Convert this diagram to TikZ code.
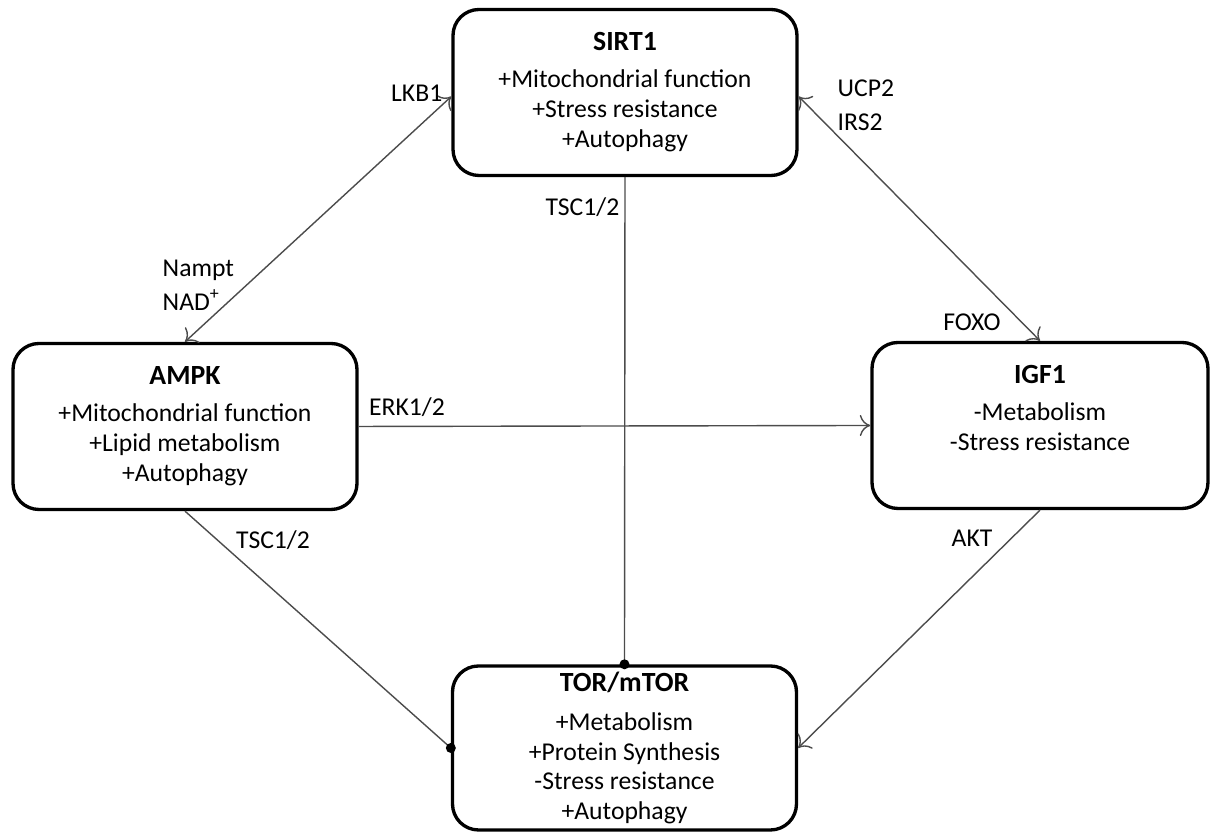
\documentclass[tikz,border=0pt]{standalone}
\usepackage{fontspec}
\setmainfont{Carlito}
\usepackage{tikz}
\usetikzlibrary{arrows.meta}
\usetikzlibrary{calc,shapes}

\tikzset{
  boite/.style={draw,line width=0.95pt,rounded corners=0.26cm,minimum width=3.44cm,minimum height=1.66cm,inner sep=0},
  texte/.style={anchor=north,align=center,inner sep=0,font=\fontsize{7.3}{8.5}\selectfont},
  lien/.style={black!70,line width=0.4pt},
  etiq/.style={inner sep=0,font=\fontsize{7.3}{9.7}\selectfont}
}

\begin{document}
\begin{tikzpicture}[>={To[length=3pt,width=6pt]}]
\useasboundingbox (0,0) rectangle (12.11,8.32);
% Boites
\node [boite] (sirt) at (6.25,7.395) {};
\node [boite] (ampk) at (1.85,4.055) {};
\node [boite,minimum width=3.36cm] (igf) at (10.40,4.065) {};
\node [boite,minimum height=1.64cm] (tor) at (6.245,0.84) {};
% Textes
\node [texte] (sirttxt) at ([yshift=-0.24cm]sirt.north) {{\fontsize{7.9}{8}\selectfont\bfseries SIRT1}\\[2pt]+Mitochondrial function\\+Stress resistance\\+Autophagy};
\node [texte] (ampktxt) at ([yshift=-0.24cm]ampk.north) {{\fontsize{7.9}{8}\selectfont\bfseries AMPK}\\[2pt]+Mitochondrial function\\+Lipid metabolism\\+Autophagy};
\node [texte] (igftxt) at ([yshift=-0.24cm]igf.north) {{\fontsize{7.9}{8}\selectfont\bfseries IGF1}\\[2pt]-Metabolism\\-Stress resistance};
\node [texte] (tortxt) at ([yshift=-0.07cm]tor.north) {{\fontsize{7.9}{8}\selectfont\bfseries TOR/mTOR}\\[2.5pt]+Metabolism\\+Protein Synthesis\\-Stress resistance\\+Autophagy};
% Liens
\draw [lien,<->] (ampk.north) -- ([yshift=-0.04cm]sirt.west);
\draw [lien,<->] ([yshift=-0.04cm]sirt.east) -- (igf.north);
\draw [lien,->] (ampk.east) -- (igf.west);
\draw [lien] (sirt.south) -- (tor.north);
\draw [lien] (ampk.south) -- (tor.west);
\draw [lien,->] (igf.south) -- (tor.east);
\fill (tor.north) circle (0.05);
\fill (tor.west) circle (0.05);
% Etiquettes
\node [etiq,anchor=east] (lkb) at (4.43,7.39) {LKB1};
\node [etiq,anchor=west,align=left] (nampt) at (1.62,5.47) {Nampt\\NAD\textsuperscript{+}};
\node [etiq,anchor=west,align=left] (ucp) at (8.37,7.27) {UCP2\\IRS2};
\node [etiq] (foxo) at (9.72,5.10) {FOXO};
\node [etiq] (erk) at (4.07,4.25) {ERK1/2};
\node [etiq] (tscb) at (2.73,2.92) {TSC1/2};
\node [etiq] (akt) at (9.72,2.94) {AKT};
\node [etiq,anchor=east] (tsch) at (6.20,6.25) {TSC1/2};
\end{tikzpicture}
\end{document}
